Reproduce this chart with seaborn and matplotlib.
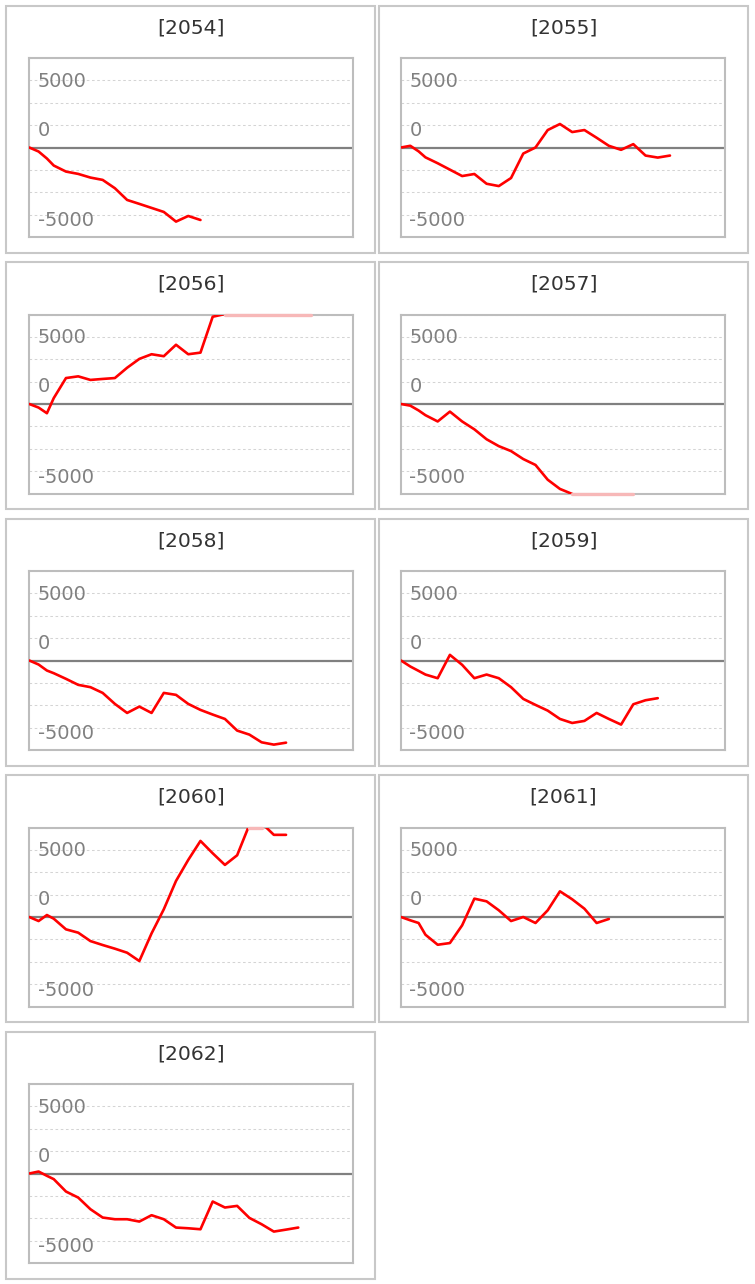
import matplotlib
matplotlib.use("Agg")
import matplotlib.pyplot as plt
import matplotlib.transforms as mtransforms
import numpy as np
import seaborn as sns
from matplotlib.patches import Rectangle
from matplotlib.ticker import MultipleLocator


CODES = ["2054", "2055", "2056", "2057", "2058", "2059", "2060", "2061", "2062"]

# shared x positions (first steps are irregular in the source chart)
DAY_POS = [0, 0.76, 1.44, 2, 3, 4, 5, 6, 7, 8, 9, 10, 11, 12, 13, 14, 15, 16,
           17, 18, 19, 20, 21, 22, 23]

S_2054 = [0, -450, -1230, -2015, -2690, -2950, -3360, -3620, -4550, -5860,
          -6300, -6750, -7200, -8280, -7650, -8100]
S_2055 = [0, 190, -430, -1100, -1760, -2475, -3190, -2960, -4050, -4310,
          -3410, -675, 0, 1950, 2625, 1725, 1950, 1090, 190, -260, 375, -900,
          -1125, -900]
S_2056 = [0, -400, -1030, 660, 2900, 3090, 2690, 2800, 2900, 4050, 5040, 5560,
          5340, 6620, 5560, 5740, 9750, 10050, 10800, 11500, 11200, 12000,
          11800, 12500, 12300]
S_2057 = [0, -185, -720, -1250, -1950, -850, -1950, -2830, -3940, -4710, -5260,
          -6150, -6810, -8460, -9490, -10050, -10600, -11200, -11000, -11800,
          -12200]
S_2058 = [0, -450, -1120, -1420, -2050, -2720, -2980, -3620, -4850, -5860,
          -5150, -5860, -3620, -3840, -4850, -5520, -6040, -6530, -7830, -8280,
          -9140, -9400, -9180]
S_2059 = [0, -670, -1160, -1570, -1980, 630, -485, -1980, -1570, -1980, -2980,
          -4290, -4960, -5600, -6530, -6980, -6750, -5860, -6530, -7160, -4890,
          -4440, -4210]
S_2060 = [0, -450, 220, -190, -1380, -1750, -2690, -3130, -3540, -3990, -4920,
          -1830, 860, 4030, 6380, 8500, 7120, 5820, 6900, 10300, 10500, 9180,
          9180]
S_2061 = [0, -370, -670, -1980, -3100, -2910, -930, 2050, 1750, 750, -450, 0,
          -670, 750, 2870, 1980, 930, -670, -220]
S_2062 = [0, 220, -260, -630, -2015, -2690, -3990, -4920, -5110, -5110, -5370,
          -4660, -5110, -6040, -6120, -6230, -3130, -3800, -3620, -4960, -5670,
          -6490, -6270, -6040]

SERIES = [S_2054, S_2055, S_2056, S_2057, S_2058, S_2059, S_2060, S_2061, S_2062]

Y_TICKS = [7500, 2500, -7500]
Y_TICK_LABELS = ["5000", "0", "-5000"]
# the source draws its labels a little off the grid lines (pixels, + = down)
LABEL_NUDGE = [1, -3, -4]
Y_LIMIT = 10000
X_MAX = 26.5

FIG_W, FIG_H = 755, 1284


def px_rect(left, top, width, height):
    """pixel box (top-left origin) -> figure fraction rect"""
    return [left / FIG_W, 1 - (top + height) / FIG_H, width / FIG_W, height / FIG_H]


sns.set_style("white")
plt.rcParams["font.family"] = ["DejaVu Sans"]

fig = plt.figure(figsize=(FIG_W / 100, FIG_H / 100), dpi=100)

for i, (code, values) in enumerate(zip(CODES, SERIES)):
    row, col = divmod(i, 2)
    box_left = 6 + col * 372.5
    box_top = 5.5 + row * 256.5

    # panel frame + title
    fig.add_artist(Rectangle(
        (box_left / FIG_W, 1 - (box_top + 247) / FIG_H), 369 / FIG_W, 247 / FIG_H,
        transform=fig.transFigure, fill=False, edgecolor="#c8c8c8", linewidth=1.5,
    ))
    fig.text((box_left + 185) / FIG_W, 1 - (box_top + 22.2) / FIG_H, f"[{code}]",
             ha="center", va="center", fontsize=14.6, color="#333333")

    ax = fig.add_axes(px_rect(29.3 + col * 371.7, 58 + row * 256.5, 324, 179))

    x = DAY_POS[:len(values)]
    sns.lineplot(x=x, y=values, ax=ax, color="#ff0000", linewidth=1.9, zorder=3)

    # values outside the range are drawn faded along the frame
    vals = np.array(values, dtype=float)
    out = np.abs(vals) > Y_LIMIT
    pink = np.where(out, np.clip(vals, -Y_LIMIT, Y_LIMIT), np.nan)
    ax.plot(x, pink, color="#f7b8b8", linewidth=2.4, clip_on=False, zorder=4)

    ax.axhline(0, color="#808080", linewidth=1.6, zorder=2)
    ax.set_xlim(0, X_MAX)
    ax.set_ylim(-Y_LIMIT, Y_LIMIT)
    ax.set_xticks([])
    ax.set_yticks(Y_TICKS, Y_TICK_LABELS)
    ax.yaxis.set_minor_locator(MultipleLocator(2500))
    ax.grid(which="both", axis="y", color="#d4d4d4", linestyle=(0, (2.5, 2.5)),
            linewidth=0.75)
    ax.tick_params(axis="y", which="both", length=0, pad=-6, labelsize=13.9,
                   labelcolor="#808080")
    for lbl, nudge in zip(ax.get_yticklabels(), LABEL_NUDGE):
        lbl.set_horizontalalignment("left")
        lbl.set_transform(lbl.get_transform() + mtransforms.ScaledTranslation(
            0, nudge / 100, fig.dpi_scale_trans))
    ax.set_xlabel("")
    ax.set_ylabel("")
    for sp in ax.spines.values():
        sp.set_color("#bdbdbd")
        sp.set_linewidth(1.5)

fig.savefig("out.png", dpi=100)
